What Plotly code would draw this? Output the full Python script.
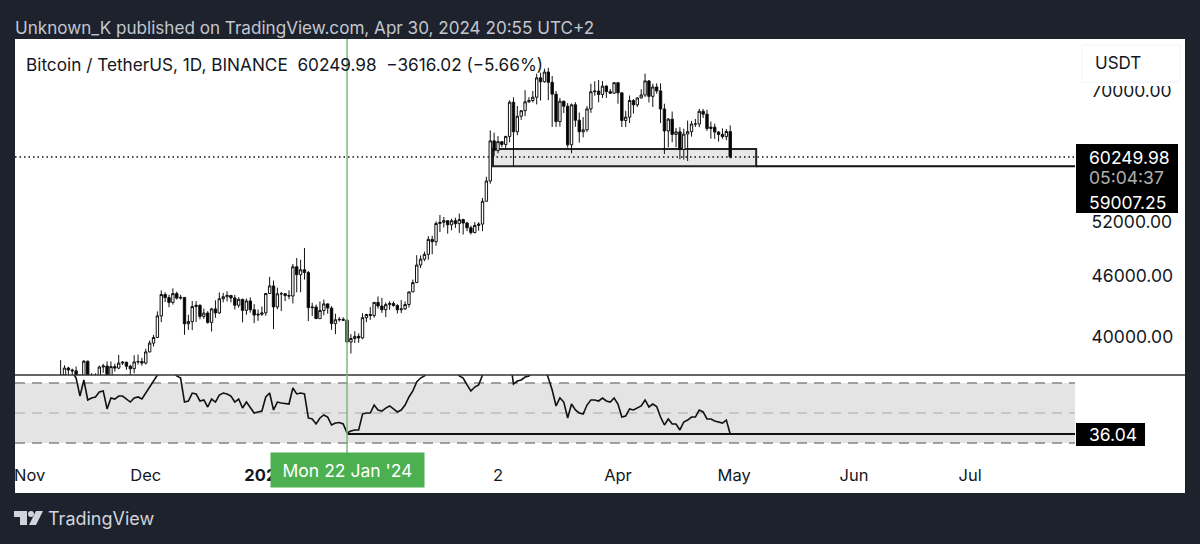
import pandas as pd
import plotly.graph_objects as go

W, H = 1200, 544

# BTCUSDT daily
close_nov = [36700, 37300, 37130, 37060, 36460, 35550, 37880, 36160, 36600, 36570, 37380, 37470, 35760, 37420, 37290, 37720, 37790, 37450, 37240, 37820, 37850, 37720]
close_dec = [38690, 39470, 39980, 41990, 44080, 43770, 43290, 44170, 43720, 43790, 41240, 41450, 42890, 43020, 41940, 42260, 41370, 42660, 42270, 43660, 43860, 43990, 43740, 43020, 43600, 42520, 43440, 42580, 42070, 42140, 42280]
close_jan = [44180, 44950, 42850, 44150, 44160, 43970, 43930, 46950, 46110, 46630, 46340, 42780, 42840, 41730, 42510, 43150, 42740, 41260, 41620, 41660, 41580, 39570, 39890, 40080, 39940, 41820, 42120, 42030, 43300, 42940, 42580]
close_feb = [43080, 43190, 42990, 42580, 42660, 43090, 44340, 45290, 47130, 47770, 48290, 49960, 49700, 51800, 51940, 52130, 51640, 52130, 51780, 52260, 51850, 51300, 50740, 51570, 51730, 54480, 57050, 62500, 61130]
close_mar = [62390, 61990, 63130, 68240, 63800, 66100, 66930, 68300, 68500, 69020, 72120, 71480, 73080, 71390, 69500, 65300, 68390, 67610, 61940, 67840, 65500, 63800, 64090, 67210, 69880, 69990, 69450, 70780, 69900, 69650, 71330]
close_apr = [69700, 65460, 65960, 68500, 67830, 68900, 69360, 71620, 69150, 70640, 70010, 67190, 63920, 65660, 63420, 63790, 61280, 63470, 63820, 64940, 64940, 66840, 66410, 64280, 64480, 63760, 63420, 63110, 63840, 60249.98]

high_nov = [37970, 37530, 37400, 37250, 37430, 36770, 37980, 37930, 36860, 36850, 37500, 37650, 37860, 37860, 37660, 38420, 37900, 37840, 37580, 38400, 38450, 38170]
high_dec = [38970, 39700, 40220, 42420, 44490, 44300, 44050, 44700, 44370, 44050, 43800, 42100, 43430, 43420, 43090, 42700, 42440, 42770, 43500, 44290, 44240, 44400, 44020, 44040, 43800, 43650, 43680, 43800, 43130, 42600, 42900]
high_jan = [44180, 45880, 45500, 44770, 44340, 44230, 44500, 47250, 47890, 47700, 49000, 46500, 43250, 43080, 43390, 43580, 43200, 42930, 42200, 41880, 41860, 41690, 40280, 40550, 40350, 42250, 42200, 42840, 43330, 43880, 43740]
high_feb = [43290, 43420, 43380, 43120, 43530, 43400, 44380, 45600, 48200, 48170, 48590, 50330, 50370, 52040, 52820, 52570, 52170, 52360, 52480, 52980, 52370, 52000, 51550, 51960, 51950, 54900, 57590, 64000, 63680]
high_mar = [63180, 62430, 63230, 68530, 69000, 67640, 67000, 70130, 69020, 70000, 72800, 72970, 73650, 73780, 72420, 70000, 68900, 68500, 68100, 68030, 68240, 66650, 65970, 67620, 71150, 71560, 71770, 71600, 70930, 70330, 71370]
high_apr = [71370, 69670, 66900, 69290, 68720, 69000, 70280, 72800, 71750, 71170, 71230, 71230, 68000, 65830, 66800, 64360, 64470, 64250, 65450, 65400, 65680, 67220, 67200, 67070, 65300, 65000, 63900, 64300, 64200, 64730]

low_nov = [36000, 36300, 36700, 36750, 36300, 35000, 35360, 35500, 35860, 36250, 36330, 36900, 35640, 35650, 37000, 37200, 37550, 37150, 36700, 36860, 37600, 37500]
low_dec = [37600, 38650, 39170, 39980, 41400, 43330, 42830, 43080, 43580, 43570, 40220, 40680, 40650, 41420, 41660, 41700, 41250, 40520, 41800, 42180, 43300, 43400, 43300, 42600, 42770, 41380, 42100, 42300, 41300, 41520, 41980]
low_jan = [42000, 44150, 40750, 42630, 42450, 43420, 43610, 43200, 44300, 44300, 45600, 41500, 41970, 41700, 41720, 42050, 42200, 40680, 40280, 41450, 41500, 39430, 38550, 39480, 39500, 39820, 41400, 41620, 41810, 42680, 42280]
low_feb = [41880, 42570, 42880, 42220, 42260, 42570, 42790, 44330, 45240, 46800, 47550, 47700, 48300, 49240, 50800, 51330, 50620, 51000, 51280, 50700, 50520, 50900, 50520, 50650, 50950, 50900, 54450, 56700, 60360]
low_mar = [60770, 61600, 61300, 62300, 59007, 63300, 65550, 66100, 68130, 68200, 67900, 68500, 71330, 68550, 64500, 64520, 64550, 66580, 61560, 60760, 64530, 62260, 63000, 63790, 66600, 69250, 68230, 68900, 68900, 69550, 69570]
low_apr = [68000, 64500, 64500, 65080, 66500, 67500, 68820, 69050, 68200, 67500, 69570, 65080, 60660, 61600, 62300, 61600, 59950, 59900, 59700, 63100, 64500, 64470, 65830, 63930, 62800, 62780, 62400, 62800, 62600, 60050]

rsi_nov = [85, 80, 79, 77.5, 73.3, 61.3, 72, 58.7, 60, 60.7, 64, 64.7, 52.7, 60, 59.3, 61.3, 61.3, 59.3, 57.3, 60, 60.7, 59.3]
rsi_dec = [63.3, 68, 72, 75.3, 82, 80, 77, 78, 74.7, 73.3, 57.3, 58, 63.3, 62.7, 58, 58.7, 54, 59.3, 57.3, 62, 63.3, 62.7, 61.3, 57.3, 59.3, 53.3, 57.3, 53.3, 50, 50.7, 51.3]
rsi_jan = [60.7, 63.3, 52, 57.3, 56.7, 56.3, 56, 66.7, 62.7, 63.3, 62.7, 46.7, 46, 42.7, 46.7, 48.7, 47.3, 42, 43.3, 43.7, 42.7, 36.7, 38, 38.7, 38.7, 49.3, 50, 50, 55.3, 52, 51.3]
rsi_feb = [53.3, 54.7, 52.7, 50.7, 52, 55.3, 60.7, 64.7, 70.7, 73.3, 74.7, 80, 83, 80, 82, 82, 79, 80, 78, 74.7, 73.3, 68.7, 64.7, 67.3, 68.7, 75.3, 82, 87, 84]
rsi_mar = [85, 83, 85, 88, 69.3, 71.3, 72, 74, 74.7, 77, 80, 79, 81, 73.3, 65.3, 54.7, 60, 57.3, 46.7, 56, 52, 50, 49.3, 55.3, 58.7, 58.7, 58, 60, 58, 57.3, 60]
rsi_apr = [56, 47.3, 48, 52.7, 52, 53.3, 54.7, 58.7, 54, 56, 54.3, 47.3, 42, 46, 42.7, 42.7, 38.7, 44, 45.3, 47.3, 47.3, 52, 50.7, 46, 46, 44.7, 44, 43.3, 45.3, 36.04]

closes = close_nov + close_dec + close_jan + close_feb + close_mar + close_apr
highs = high_nov + high_dec + high_jan + high_feb + high_mar + high_apr
lows = low_nov + low_dec + low_jan + low_feb + low_mar + low_apr
rsi = rsi_nov + rsi_dec + rsi_jan + rsi_feb + rsi_mar + rsi_apr
opens = [36400] + closes[:-1]
dates = pd.date_range("2023-11-09", "2024-04-30", freq="D")

last_price = 60249.98
zone_top = 61350
zone_low = 59007.25
rsi_last = 36.04
rsi_levels = [70, 50, 30]

price_ticks = [70000, 52000, 46000, 40000]
month_ticks = ["2023-11-01", "2023-12-01", "2024-01-01", "2024-03-01", "2024-04-01", "2024-05-01", "2024-06-01", "2024-07-01"]
month_labels = ["Nov", "Dec", "<b>2024</b>", "2", "Apr", "May", "Jun", "Jul"]

INK = "#131722"
DARK = "#1e222d"
FONT = "Inter, Liberation Sans, sans-serif"
X_START = "2023-10-28 05:00"
X_END = "2024-07-28 02:00"
ZONE_START = "2024-02-28 17:00"
ZONE_END = "2024-05-06 17:00"
CROSS_DATE = "2024-01-22"


def px(x):
    return x / W


def py(y):
    return 1 - y / H


def note(x, y, text, color=INK, size=16, anchor="left"):
    return dict(xref="paper", yref="paper", x=px(x), y=py(y), text=text, showarrow=False,
                xanchor=anchor, yanchor="middle", font=dict(color=color, size=size), borderpad=0)


def box(x0, y0, x1, y1, fill, layer="above", line=None):
    return dict(type="rect", xref="paper", yref="paper", x0=px(x0), x1=px(x1), y0=py(y0), y1=py(y1),
                fillcolor=fill, line=line or dict(width=0), layer=layer)


def poly(points, fill):
    path = "M " + " L ".join(f"{px(a):.5f},{py(b):.5f}" for a, b in points) + " Z"
    return dict(type="path", xref="paper", yref="paper", path=path, fillcolor=fill, line=dict(width=0), layer="above")


fig = go.Figure()

fig.add_trace(go.Scatter(
    x=[ZONE_END, X_END], y=[zone_low, zone_low], mode="lines",
    line=dict(color="#111111", width=2), hoverinfo="skip",
))
fig.add_trace(go.Scatter(
    x=[X_START, X_END], y=[last_price, last_price], mode="lines",
    line=dict(color="#111111", width=1.5, dash="1.5px,3px"), hoverinfo="skip",
))

fig.add_trace(go.Candlestick(
    x=dates, open=opens, high=highs, low=lows, close=closes,
    increasing=dict(line=dict(color="#111111", width=1), fillcolor="#ffffff"),
    decreasing=dict(line=dict(color="#111111", width=1), fillcolor="#000000"),
    whiskerwidth=0,
))

# RSI pane
fig.add_trace(go.Scatter(
    x=dates, y=rsi, yaxis="y2", mode="lines",
    line=dict(color="#111111", width=1.6),
))
fig.add_trace(go.Scatter(
    x=[CROSS_DATE, X_END], y=[rsi_last, rsi_last], yaxis="y2", mode="lines",
    line=dict(color="#111111", width=2), hoverinfo="skip",
))

shapes = [
    box(15, 39, 1185, 493, "#ffffff", layer="below"),
    # support zone goes under the candles
    dict(type="rect", xref="x", yref="y", x0=ZONE_START, x1=ZONE_END, y0=zone_low, y1=zone_top,
         fillcolor="#e8e8e8", line=dict(color="#222222", width=2), layer="below"),
    dict(type="rect", xref="paper", yref="y2", x0=px(15), x1=px(1075), y0=rsi_levels[2], y1=rsi_levels[0],
         fillcolor="#e4e4e4", line=dict(width=0), layer="below"),
]
for level, colr, lw in zip(rsi_levels, ["#858585", "#a8a8a8", "#858585"], [1.5, 1, 1.5]):
    shapes.append(dict(type="line", xref="paper", yref="y2", x0=px(15), x1=px(1075), y0=level, y1=level,
                       line=dict(color=colr, width=lw, dash="10px,7px"), layer="below"))
shapes += [
    # pane divider
    dict(type="line", xref="paper", yref="paper", x0=px(15), x1=px(1185), y0=py(375), y1=py(375),
         line=dict(color="#333333", width=1.5), layer="above"),
    # crosshair
    dict(type="line", xref="x", yref="paper", x0=CROSS_DATE, x1=CROSS_DATE, y0=py(39), y1=py(453),
         line=dict(color="#7cb97c", width=1.5), layer="above"),
    # currency button, hides the top of the 70000 label
    box(1082, 45, 1180, 86, "#ffffff"),
    box(1082, 45, 1180, 82, "#ffffff", line=dict(color="#f0f3fa", width=1)),
    # price labels
    box(1076, 144, 1178, 213, "#000000"),
    box(1076, 423, 1145, 446, "#000000"),
    # logo
    poly([(14, 511), (27, 511), (27, 525), (20, 525), (20, 517), (14, 517)], "#d1d4dc"),
    dict(type="circle", xref="paper", yref="paper", x0=px(28), x1=px(34), y0=py(511), y1=py(517),
         fillcolor="#d1d4dc", line=dict(width=0), layer="above"),
    poly([(36, 511), (43, 511), (36, 525), (29, 525)], "#d1d4dc"),
]

annotations = [
    note(14, 27, "Unknown_K published on TradingView.com, Apr 30, 2024 20:55 UTC+2", color="#c3c7d0", size=17.1),
    note(25, 64, "Bitcoin / TetherUS, 1D, BINANCE&nbsp;&nbsp;60249.98&nbsp;&nbsp;−3616.02 (−5.66%)", size=17.2),
    note(1094, 63, "USDT", size=17),
    note(1088, 157, "60249.98", color="#ffffff", size=17.5),
    note(1088, 177, "05:04:37", color="#b0b0b0", size=17.5),
    note(1088, 202, "59007.25", color="#ffffff", size=17.5),
    note(1088, 434, "36.04", color="#ffffff", size=17.5),
    note(47, 518, "TradingView", color="#d1d4dc", size=18),
    dict(xref="x", yref="paper", x=CROSS_DATE, y=py(470), text="Mon 22 Jan '24", showarrow=False,
         yanchor="middle", bgcolor="#4caf50", width=151, height=32, font=dict(color="#ffffff", size=17.5)),
]

fig.update_layout(
    width=W, height=H,
    margin=dict(l=0, r=0, t=0, b=0),
    paper_bgcolor=DARK,
    plot_bgcolor="rgba(0,0,0,0)",
    font=dict(family=FONT, color=INK, size=16),
    showlegend=False,
    boxgap=0.12,
    xaxis=dict(
        domain=[px(15), px(1075)], anchor="y2", range=[X_START, X_END],
        rangeslider=dict(visible=False), showgrid=False, zeroline=False, showline=False,
        tickmode="array", tickvals=month_ticks, ticktext=month_labels,
        ticks="outside", ticklen=2, tickcolor="rgba(0,0,0,0)", tickfont=dict(size=16.5),
    ),
    yaxis=dict(
        domain=[py(375), py(39)], anchor="x", side="right", type="log",
        range=[4.5648, 4.8964], showgrid=False, zeroline=False, showline=False,
        tickmode="array", tickvals=price_ticks, ticktext=[f"{v}.00" for v in price_ticks],
        ticks="outside", ticklen=12, tickcolor="rgba(0,0,0,0)", tickfont=dict(size=17.5),
    ),
    yaxis2=dict(
        domain=[py(458), py(375)], anchor="x", side="right",
        range=[20, 75.33], showgrid=False, zeroline=False, showline=False, showticklabels=False,
    ),
    shapes=shapes,
    annotations=annotations,
)

# the page's default 8px body margin would shift everything
fig.write_html("out.html", config=dict(displayModeBar=False),
               post_script="document.body.style.margin='0';document.body.style.background='#1e222d';")
